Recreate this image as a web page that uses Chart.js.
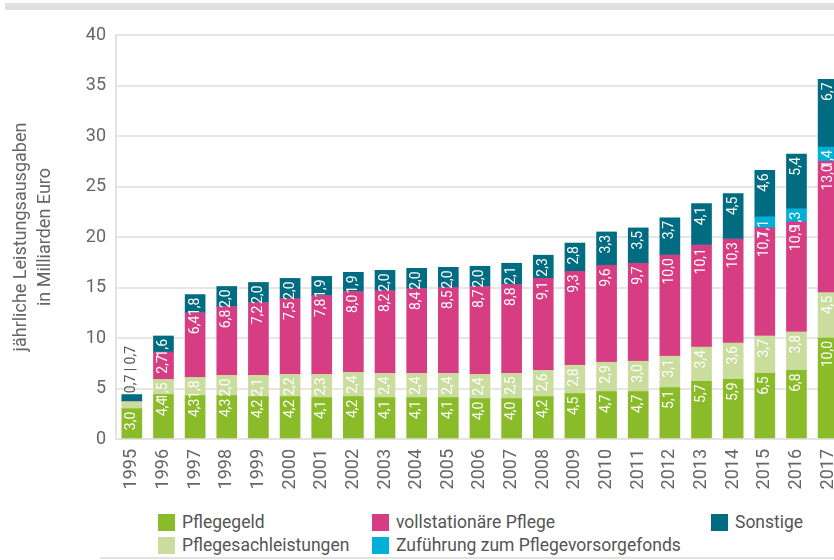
<!DOCTYPE html>
<html>
<head>
<meta charset="utf-8">
<script src="https://cdn.jsdelivr.net/npm/chart.js@4/dist/chart.umd.min.js"></script>
<style>
    body { margin: 0; width: 834px; height: 560px; overflow: hidden; background: #fff; font-family: Roboto, sans-serif; position: relative; }
    #topBar { position: absolute; left: 5px; top: 3px; width: 840px; height: 7px; background: #e0e0e0; }
    #bottomLine { position: absolute; left: 100px; top: 557px; width: 740px; height: 2px; background: #e2e2e2; }
    #wrap { position: absolute; left: 0; top: 0; }
    .leg { position: absolute; font-size: 17.5px; font-weight: 400; color: #555; white-space: nowrap; line-height: 17px; }
    .leg span { display: inline-block; width: 17px; height: 17px; vertical-align: top; margin-right: 7px; }
</style>
</head>
<body>
<div id="topBar"></div>
<div id="wrap"><canvas id="myChart" width="860" height="500"></canvas></div>
<div id="legend"></div>
<div id="bottomLine"></div>
<script>
// Jahre
const years = ['1995', '1996', '1997', '1998', '1999', '2000', '2001', '2002', '2003', '2004', '2005', '2006',
    '2007', '2008', '2009', '2010', '2011', '2012', '2013', '2014', '2015', '2016', '2017'];

// Leistungsausgaben in Mrd. Euro
const pflegegeld = [3.0, 4.4, 4.3, 4.3, 4.2, 4.2, 4.1, 4.2, 4.1, 4.1, 4.1, 4.0, 4.0, 4.2, 4.5, 4.7, 4.7, 5.1, 5.7, 5.9, 6.5, 6.8, 10.0];
const pflegesachleistungen = [0.7, 1.5, 1.8, 2.0, 2.1, 2.2, 2.3, 2.4, 2.4, 2.4, 2.4, 2.4, 2.5, 2.6, 2.8, 2.9, 3.0, 3.1, 3.4, 3.6, 3.7, 3.8, 4.5];
const vollstationaer = [0, 2.7, 6.4, 6.8, 7.2, 7.5, 7.8, 8.0, 8.2, 8.4, 8.5, 8.7, 8.8, 9.1, 9.3, 9.6, 9.7, 10.0, 10.1, 10.3, 10.7, 10.9, 13.0];
const vorsorgefonds = [0, 0, 0, 0, 0, 0, 0, 0, 0, 0, 0, 0, 0, 0, 0, 0, 0, 0, 0, 0, 1.1, 1.3, 1.4];
const sonstige = [0.7, 1.6, 1.8, 2.0, 2.0, 2.0, 1.9, 1.9, 2.0, 2.0, 2.0, 2.0, 2.1, 2.3, 2.8, 3.3, 3.5, 3.7, 4.1, 4.5, 4.6, 5.4, 6.7];

const yTicks = [0, 5, 10, 15, 20, 25, 30, 35, 40];

const series = [
    {label: 'Pflegegeld', data: pflegegeld, color: '#8abb28'},
    {label: 'Pflegesachleistungen', data: pflegesachleistungen, color: '#cbdd9e'},
    {label: 'vollstationäre Pflege', data: vollstationaer, color: '#d63d83'},
    {label: 'Zuführung zum Pflegevorsorgefonds', data: vorsorgefonds, color: '#00b0d9'},
    {label: 'Sonstige', data: sonstige, color: '#006c81'},
];

const fmt = v => v.toFixed(1).replace('.', ',');

// Beschriftung in den Balken (gedreht, oben im Segment)
const barLabels = {
    id: 'barLabels',
    afterDatasetsDraw(chart) {
        const c = chart.ctx;
        c.save();
        c.font = '400 14px Roboto';
        c.fillStyle = '#fff';
        c.textAlign = 'right';
        c.textBaseline = 'middle';
        chart.data.datasets.forEach((ds, di) => {
            chart.getDatasetMeta(di).data.forEach((bar, i) => {
                const v = ds.data[i];
                if (!v) return;
                if (i === 0 && di > 0) return; // 1995 steht oberhalb
                c.save();
                c.translate(bar.x, bar.y + 3);
                c.rotate(-Math.PI / 2);
                c.fillText(fmt(v), 0, 0);
                c.restore();
            });
        });
        // 1995: Werte oberhalb des Balkens
        const b = chart.getDatasetMeta(4).data[0];
        c.fillStyle = '#555';
        c.textAlign = 'center';
        c.translate(b.x, b.y - 25);
        c.rotate(-Math.PI / 2);
        c.fillText(fmt(pflegesachleistungen[0]) + ' | ' + fmt(sonstige[0]), 0, 0);
        c.restore();
    }
};

function buildLegend() {
    const items = [
        {i: 0, x: 158, y: 514},
        {i: 1, x: 158, y: 537},
        {i: 2, x: 372, y: 514},
        {i: 3, x: 372, y: 537},
        {i: 4, x: 711, y: 514},
    ];
    const legend = document.getElementById('legend');
    items.forEach(it => {
        const d = document.createElement('div');
        d.className = 'leg';
        d.style.left = it.x + 'px';
        d.style.top = it.y + 'px';
        d.innerHTML = `<span style="background:${series[it.i].color}"></span>${series[it.i].label}`;
        legend.appendChild(d);
    });
}

document.addEventListener("DOMContentLoaded", function() {
    buildLegend();
    new Chart(document.getElementById('myChart'), {
        type: 'bar',
        data: {
            labels: years,
            datasets: series.map(s => ({
                label: s.label,
                data: s.data,
                backgroundColor: s.color,
                borderWidth: 0,
                barThickness: 20,
            })),
        },
        options: {
            responsive: false,
            animation: false,
            layout: {padding: {top: 35, right: 13, left: 0, bottom: 0}},
            plugins: {legend: {display: false}, tooltip: {enabled: false}},
            scales: {
                x: {
                    stacked: true,
                    grid: {display: false, drawTicks: false},
                    border: {color: '#e3e3e3', width: 2},
                    ticks: {
                        color: '#666',
                        font: {family: 'Roboto', size: 18, weight: 400},
                        minRotation: 90,
                        maxRotation: 90,
                        padding: 10,
                        autoSkip: false,
                    },
                    afterFit: scale => { scale.height = 61; },
                },
                y: {
                    stacked: true,
                    min: 0,
                    max: 40,
                    afterBuildTicks: scale => { scale.ticks = yTicks.map(v => ({value: v})); },
                    grid: {color: '#e6e6e6', lineWidth: 2, drawTicks: false},
                    border: {color: '#e3e3e3', width: 2},
                    ticks: {
                        color: '#666',
                        font: {family: 'Roboto', size: 18, weight: 400},
                        padding: 10,
                    },
                    title: {
                        display: true,
                        text: ['jährliche Leistungsausgaben', 'in Milliarden Euro'],
                        color: '#666',
                        font: {family: 'Roboto', size: 18, weight: 400, lineHeight: 1.3},
                        padding: {top: 10, bottom: 0},
                    },
                    afterFit: scale => { scale.width = 116; },
                },
            },
        },
        plugins: [barLabels],
    });
});
</script>
</body>
</html>
